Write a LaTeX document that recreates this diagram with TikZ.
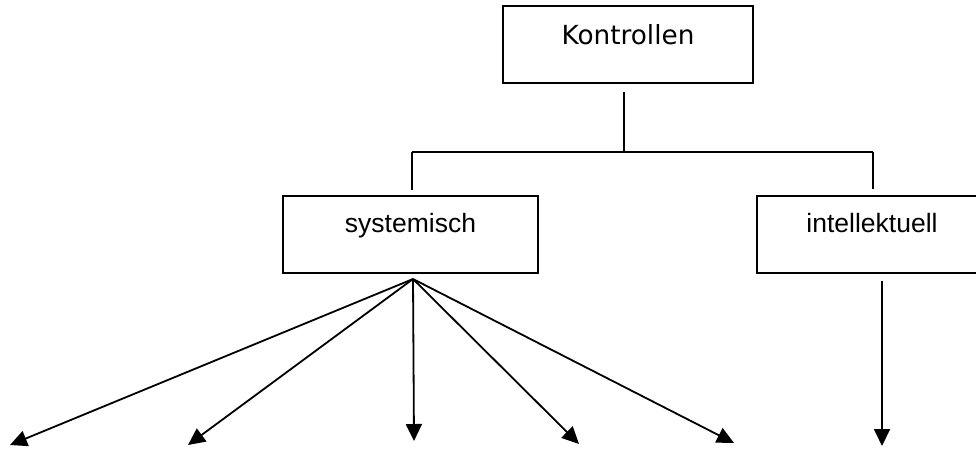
\documentclass[tikz,border=0pt]{standalone}
\usepackage{fontspec}
\setmainfont{Liberation Sans}
\newfontfamily\verdanalike{DejaVu Sans}
\usetikzlibrary{arrows.meta}
\begin{document}
\begin{tikzpicture}[x=1pt,y=-1pt,
  line width=1.9pt,
  box/.style={draw, rectangle, inner xsep=0pt, inner ysep=0pt, anchor=base, font=\fontsize{26.5}{30}\selectfont},
  arr/.style={line width=1.8pt, -{Triangle[length=17pt,width=16pt]}}]
\useasboundingbox (0,0) rectangle (976,451);
\clip (0,0) rectangle (976,451);
\node[box, font=\verdanalike\fontsize{26.3}{30}\selectfont, minimum width=250pt, text height=38pt, text depth=39pt] (K) at (628,44) {Kontrollen};
\node[box, minimum width=255pt, text height=36pt, text depth=41pt] (S) at (410.5,232) {systemisch};
\node[box, minimum width=230pt, text height=36pt, text depth=41pt] (I) at (872,232) {intellektuell};
\coordinate (j) at (624,152);
\coordinate (jl) at (412,152);
\coordinate (jr) at (873,152);
\coordinate (apex) at (413,279);
\coordinate (t1) at (10,445);
\coordinate (t2) at (188,445);
\coordinate (t3) at (414,441);
\coordinate (t4) at (579,444);
\coordinate (t5) at (734,443);
\coordinate (t6) at (882,446);
\draw[shorten <=8pt] (j |- K.south) -- (j);
\draw (jl) -- (jr);
\draw[shorten >=5pt] (jl) -- (jl |- S.north);
\draw[shorten >=6pt] (jr) -- (jr |- I.north);
\draw[arr] (apex) -- (t1);
\draw[arr] (apex) -- (t2);
\draw[arr] (apex) -- (t3);
\draw[arr] (apex) -- (t4);
\draw[arr] (apex) -- (t5);
\draw[arr, shorten <=7pt] (t6 |- I.south) -- (t6);
\end{tikzpicture}
\end{document}
